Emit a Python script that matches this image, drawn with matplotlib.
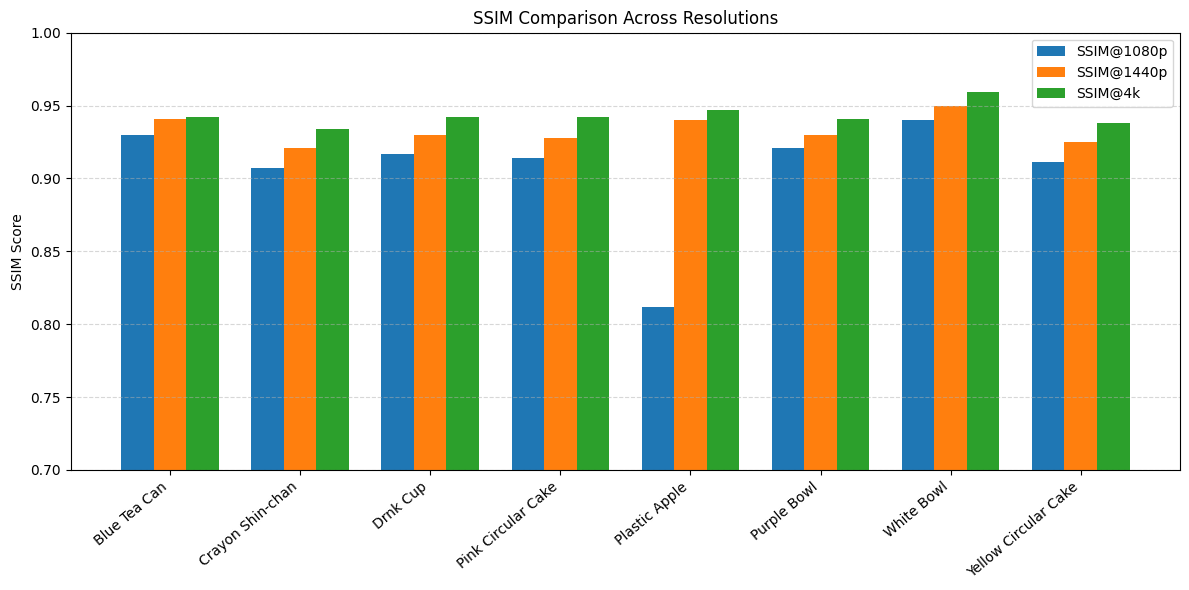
import matplotlib
matplotlib.use('Agg')
import matplotlib.pyplot as plt
import numpy as np

objects = ['Blue Tea Can', 'Crayon Shin-chan', 'Drnk Cup', 'Pink Circular Cake',
           'Plastic Apple', 'Purple Bowl', 'White Bowl', 'Yellow Circular Cake']
ssim_1080p = [0.930, 0.907, 0.917, 0.914, 0.8116, 0.921, 0.940, 0.911]
ssim_1440p = [0.941, 0.921, 0.930, 0.928, 0.940, 0.9295, 0.950, 0.925]
ssim_4k = [0.942, 0.934, 0.9425, 0.9425, 0.947, 0.941, 0.959, 0.938]

x = np.arange(len(objects))
width = 0.25

fig, ax = plt.subplots(figsize=(11.89, 5.9), dpi=100)
ax.bar(x - width, ssim_1080p, width, label='SSIM@1080p')
ax.bar(x, ssim_1440p, width, label='SSIM@1440p')
ax.bar(x + width, ssim_4k, width, label='SSIM@4k')

ax.set_ylim(0.7, 1.0)
ax.set_ylabel('SSIM Score')
ax.set_title('SSIM Comparison Across Resolutions')
ax.set_xticks(x)
ax.set_xticklabels(objects, rotation=40, ha='right')
ax.grid(axis='y', linestyle='--', alpha=0.5)
ax.legend(loc='upper right')

fig.subplots_adjust(left=0.0595, right=0.9924, top=0.9446, bottom=0.2034)
fig.savefig('out.png')
